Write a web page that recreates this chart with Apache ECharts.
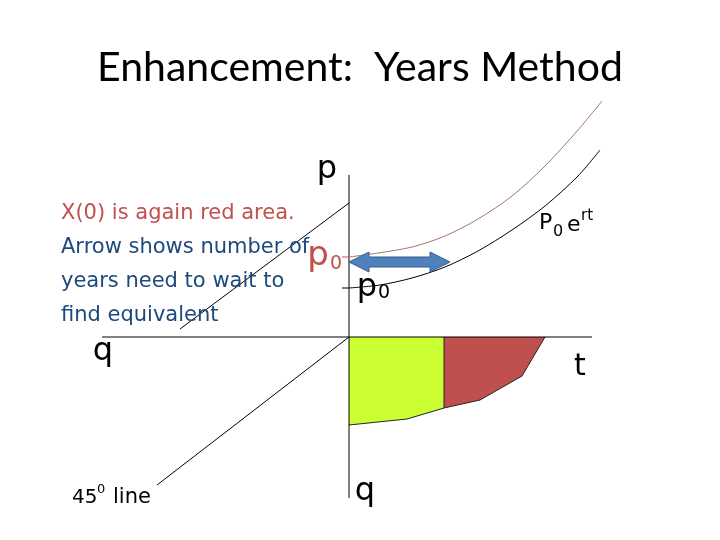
<!DOCTYPE html>
<html>
<head>
<meta charset="utf-8">
<script src="https://cdn.jsdelivr.net/npm/echarts@6/dist/echarts.min.js"></script>
<style>html,body{margin:0;padding:0;background:#fff;}#c{width:720px;height:540px;}</style>
</head>
<body>
<div id="c"></div>
<script>
// Diagram values (t / q horizontal, p / q vertical; origin at axes crossing)
const pAxisLine = [[0, 16.2], [0, -16.1]];
const tAxisLine = [[-24.7, 0], [24.3, 0]];
const demandLine = [[-16.9, 0.8], [0, 13.4]];
const line45 = [[0, 0], [-19.2, -14.8]];
const p0RedTick = [[-0.7, 8.0], [0, 8.0]];
const p0Tick = [[-0.7, 4.9], [0, 4.9]];
const upperCurve = [[0, 8.0], [2.9, 8.4], [6.3, 9.0], [9.6, 10.1], [12.9, 11.8], [16.3, 14.1], [19.6, 17.1], [22.9, 20.7], [25.3, 23.6]];
const p0ertCurve = [[0, 4.9], [3.1, 5.2], [6.3, 5.9], [9.6, 7.0], [12.9, 8.6], [16.3, 10.7], [19.6, 13.1], [22.9, 16.1], [25.1, 18.7]];
const greenArea = [[0, -8.8], [5.8, -8.2], [9.5, -7.1]];
const redArea = [[9.5, -7.1], [13.1, -6.3], [17.3, -3.9], [19.6, 0]];
const divider = [[9.5, 0], [9.5, -7.1]];
const arrowEnds = [[0, 7.5], [10.1, 7.5]];

const chart = echarts.init(document.getElementById('c'), null, {renderer: 'canvas'});

function seg(data, color, width, z) {
  return {type: 'line', data: data, symbol: 'none', silent: true, animation: false,
    lineStyle: {color: color, width: width}, z: z || 3};
}

const T = '"DejaVu Sans", Verdana, sans-serif';
function txt(text, x, y, size, color, align) {
  return {type: 'text', x: x, y: y, z: 100, silent: true,
    style: {text: text, font: size + 'px ' + T, fill: color || '#000', align: align || 'left', verticalAlign: 'middle'}};
}

const option = {
  animation: false,
  grid: {left: 0, right: 0, top: 0, bottom: 0},
  xAxis: {type: 'value', min: -34.9, max: 37.1, show: false},
  yAxis: {type: 'value', min: -20.3, max: 33.7, show: false},
  series: [
    {type: 'line', data: greenArea, symbol: 'none', silent: true, animation: false,
      lineStyle: {color: '#222', width: 1}, areaStyle: {color: '#CCFF33', opacity: 1}, z: 1},
    {type: 'line', data: redArea, symbol: 'none', silent: true, animation: false,
      lineStyle: {color: '#222', width: 1}, areaStyle: {color: '#C0504D', opacity: 1}, z: 1},
    seg(divider, '#222', 1, 2),
    seg(pAxisLine, '#000', 1),
    seg(tAxisLine, '#000', 1),
    seg(demandLine, '#000', 1),
    seg(line45, '#000', 1),
    seg(p0RedTick, '#C0504D', 1),
    seg(p0Tick, '#000', 1),
    Object.assign(seg(upperCurve, '#9E7673', 1), {smooth: 0.3}),
    Object.assign(seg(p0ertCurve, '#000', 1), {smooth: 0.3}),
    {
      type: 'custom', silent: true, animation: false, z: 5,
      data: [0],
      renderItem: function (params, api) {
        const a = api.coord(arrowEnds[0]);
        const b = api.coord(arrowEnds[1]);
        const cy = a[1];
        const hl = 20, hh = 10, sh = 5;
        return {
          type: 'polygon',
          shape: {points: [
            [a[0], cy], [a[0] + hl, cy - hh], [a[0] + hl, cy - sh], [b[0] - hl, cy - sh], [b[0] - hl, cy - hh],
            [b[0], cy], [b[0] - hl, cy + hh], [b[0] - hl, cy + sh], [a[0] + hl, cy + sh], [a[0] + hl, cy + hh]
          ]},
          style: {fill: '#4F81BD', stroke: '#385D8A', lineWidth: 1}
        };
      }
    }
  ],
  graphic: [
    {type: 'text', x: 360, y: 68, z: 100, silent: true,
      style: {text: 'Enhancement:  Years Method', font: '41px Lato, "Open Sans", sans-serif', fill: '#000', align: 'center', verticalAlign: 'middle'}},
    txt('X(0) is again red area.', 61, 214, 21, '#C0504D'),
    txt('Arrow shows number of', 61, 248, 21, '#1F497D'),
    txt('years need to wait to', 61, 282, 21, '#1F497D'),
    txt('find equivalent', 61, 316, 21, '#1F497D'),
    txt('p', 327, 170, 32, '#000', 'center'),
    txt('p', 318, 256, 34, '#C0504D', 'center'),
    txt('0', 336, 264, 19, '#C0504D', 'center'),
    txt('p', 367, 288, 32, '#000', 'center'),
    txt('0', 384, 293, 19, '#000', 'center'),
    txt('q', 103, 352, 32, '#000', 'center'),
    txt('t', 580, 367, 30, '#000', 'center'),
    txt('q', 365, 492, 32, '#000', 'center'),
    txt('45', 72, 498, 20, '#000'),
    txt('0', 97, 490, 13, '#000'),
    txt('line', 113, 498, 21, '#000'),
    txt('P', 539, 223, 22, '#000'),
    txt('0', 553, 232, 16, '#000'),
    txt('e', 567, 225, 22, '#000'),
    txt('rt', 581, 216, 15, '#000')
  ]
};
chart.setOption(option);
</script>
</body>
</html>
